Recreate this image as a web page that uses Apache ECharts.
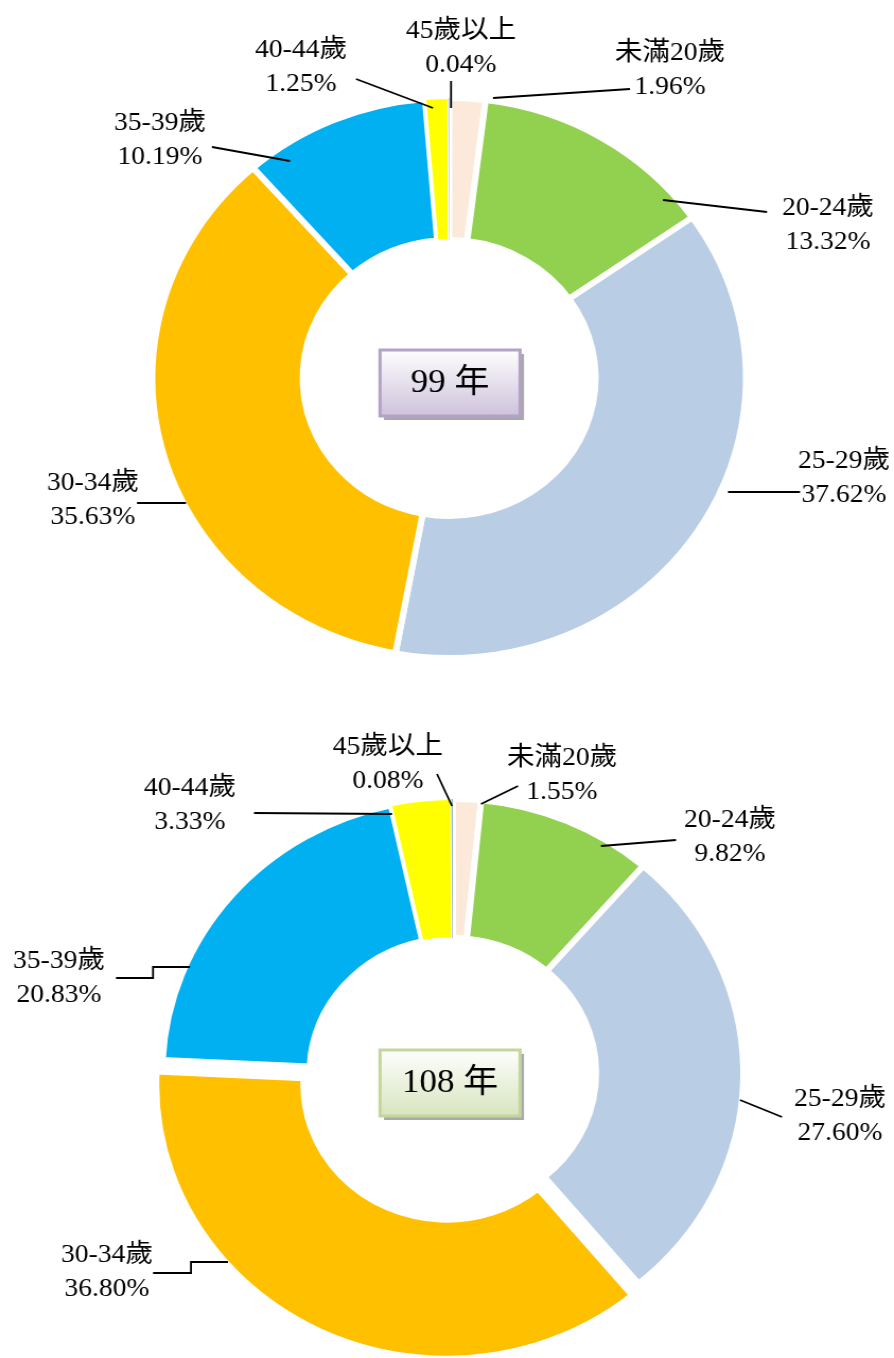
<!DOCTYPE html>
<html>
<head>
<meta charset="utf-8">
<script src="https://cdn.jsdelivr.net/npm/echarts@6/dist/echarts.min.js"></script>
<style>
html,body{margin:0;padding:0;background:#fff;overflow:hidden;}
#wrap{width:894px;height:1358px;overflow:hidden;position:relative;background:#fff;}
#chart{position:absolute;left:0;top:0;width:843px;height:1358px;transform:scaleX(1.0605);transform-origin:0 0;}
</style>
</head>
<body>
<div id="wrap"><div id="chart"></div></div>
<script>
// ---- data ----
const categories = ['未滿20歲', '20-24歲', '25-29歲', '30-34歲', '35-39歲', '40-44歲', '45歲以上'];
const values99  = [1.96, 13.32, 37.62, 35.63, 10.19, 1.25, 0.04];
const values108 = [1.55, 9.82, 27.60, 36.80, 20.83, 3.33, 0.08];
const yearLabels = ['99 年', '108 年'];

// ---- styles ----
const colors = ['#FDE9D9', '#92D050', '#B9CDE5', '#FFC000', '#00B0F0', '#FFFF00', '#95B3D7'];
const borderW = [6, 6, 6, 6, 6, 2, 0];
const STRETCH = 1.0605;               // the original chart is slightly wider than tall
const px = x => x / STRETCH;          // reference-space x -> chart-space x
const FONT = '"Liberation Serif", "Noto Sans CJK TC", serif';

// label placement (reference-space coordinates): centre of label block and leader line
const labels99 = [
  { c: [670, 70],  line: [[493, 98], [630, 89]] },
  { c: [828, 225], line: [[663, 200], [767, 212]] },
  { c: [844, 478], line: [[728, 492], [800, 492]] },
  { c: [93, 500],  line: [[186, 503], [137, 503]] },
  { c: [160, 140], line: [[290, 161], [212, 147]] },
  { c: [301, 67],  line: [[433, 108], [356, 79]] },
  { c: [461, 48],  line: [[451, 108], [451, 81]] }
];
const labels108 = [
  { c: [562, 775], line: [[481, 804], [518, 786]] },
  { c: [730, 837], line: [[601, 846], [676, 840]] },
  { c: [840, 1116], line: [[740, 1100], [782, 1117]] },
  { c: [107, 1272], line: [[228, 1262], [191, 1262], [191, 1273], [153, 1273]] },
  { c: [59, 978],  line: [[190, 967], [153, 967], [153, 978], [116, 978]] },
  { c: [190, 805], line: [[392, 814], [254, 813]] },
  { c: [388, 764], line: [[452, 806], [437, 774]] }
];

function makeData(values, opts) {
  return categories.map((name, i) => {
    let color = colors[i], bw = borderW[i];
    if (opts.hideIdx === i || (opts.onlyIdx != null && opts.onlyIdx !== i)) {
      color = 'rgba(0,0,0,0)'; bw = 0;
    }
    return {
      name: name,
      value: values[i],
      itemStyle: { color: color, borderColor: bw ? '#ffffff' : 'rgba(0,0,0,0)', borderWidth: bw }
    };
  });
}

function makeLayout(spec) {
  return function (p) {
    const s = spec[p.dataIndex];
    return { x: px(s.c[0]), y: s.c[1], align: 'center', verticalAlign: 'middle' };
  };
}

// centre of a pulled-out slice, computed from the slice's own mid angle
function explodedCenter(values, idx, center, dist) {
  const total = values.reduce((a, b) => a + b, 0);
  let before = 0;
  for (let i = 0; i < idx; i++) before += values[i];
  const mid = (before + values[idx] / 2) / total * Math.PI * 2;
  return [center[0] + dist * Math.sin(mid), center[1] - dist * Math.cos(mid)];
}

function pieSeries(values, center, radius, spec, opts) {
  const withLabels = !!spec;
  const s = {
    type: 'pie',
    center: center,
    radius: radius,
    startAngle: 90,
    clockwise: true,
    avoidLabelOverlap: false,
    silent: true,
    animation: false,
    emphasis: { disabled: true, scale: false },
    data: makeData(values, opts || {}),
    label: {
      show: withLabels,
      position: 'outside',
      color: '#000',
      fontFamily: FONT,
      fontSize: 26,
      lineHeight: 34,
      align: 'center',
      formatter: p => p.name + '\n' + p.value.toFixed(2) + '%'
    },
    labelLine: { show: false }
  };
  if (withLabels) s.labelLayout = makeLayout(spec);
  return s;
}

// leader lines, drawn above the slices
function leaderLines(spec) {
  return spec.map(s => ({
    type: 'polyline', z: 50, silent: true,
    shape: { points: s.line.map(pt => [px(pt[0]), pt[1]]) },
    style: { stroke: '#000', lineWidth: 1.8, fill: null }
  }));
}

function yearBox(x, y, w, h, text, stroke, bottomColor) {
  return {
    type: 'group',
    z: 100,
    children: [
      { type: 'rect', z: 100, shape: { x: px(x) + 4 / STRETCH, y: y + 4, width: px(w), height: h },
        style: { fill: '#A9A9A9' } },
      { type: 'rect', z: 101, shape: { x: px(x), y: y, width: px(w), height: h },
        style: {
          fill: new echarts.graphic.LinearGradient(0, 0, 0, 1, [
            { offset: 0, color: '#FFFFFF' }, { offset: 1, color: bottomColor }
          ]),
          stroke: stroke, lineWidth: 3
        } },
      { type: 'text', z: 102, x: px(x + w / 2), y: y + h / 2,
        style: { text: text, font: '33px ' + FONT, fill: '#000',
                 align: 'center', verticalAlign: 'middle',
                 textAlign: 'center', textVerticalAlign: 'middle' } }
    ]
  };
}

const center99 = [423.5, 378], radius99 = [138, 280];
const center108 = [427, 1073], radius108 = [135, 274];
const EXPLODE_108 = 3;   // the 30-34歲 slice is pulled out in the 108 chart

const chart = echarts.init(document.getElementById('chart'), null, { renderer: 'canvas' });
chart.setOption({
  backgroundColor: '#ffffff',
  animation: false,
  series: [
    pieSeries(values99, center99, radius99, labels99, {}),
    pieSeries(values108, center108, radius108, labels108, { hideIdx: EXPLODE_108 }),
    pieSeries(values108, explodedCenter(values108, EXPLODE_108, center108, 13), radius108, null,
              { onlyIdx: EXPLODE_108 })
  ],
  graphic: [].concat(
    leaderLines(labels99),
    leaderLines(labels108),
    [
      yearBox(380, 350, 140, 66, yearLabels[0], '#B3A2C7', '#CCC1DA'),
      yearBox(380, 1050, 140, 66, yearLabels[1], '#C3D69B', '#D7E4BD')
    ]
  )
});
</script>
</body>
</html>
